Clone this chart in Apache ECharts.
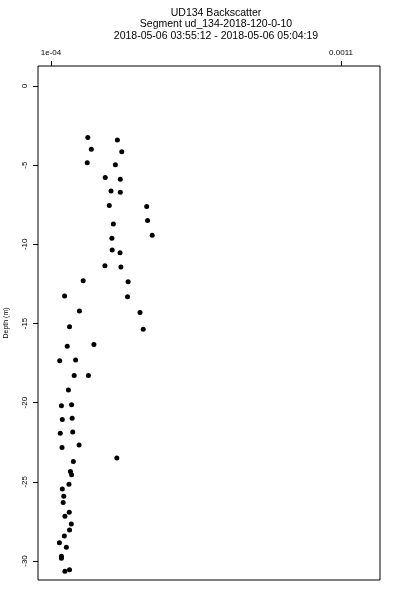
<!DOCTYPE html>
<html>
<head>
<meta charset="utf-8">
<script src="https://cdn.jsdelivr.net/npm/echarts@6/dist/echarts.min.js"></script>
<style>html,body{margin:0;padding:0;background:#fff}#c{width:400px;height:600px}</style>
</head>
<body>
<div id="c"></div>
<script>
var titleLines = ["UD134 Backscatter", "Segment ud_134-2018-120-0-10", "2018-05-06 03:55:12 - 2018-05-06 05:04:19"];
var xTickValues = [0.0001, 0.0011];
var xTickLabels = ["1e-04", "0.0011"];
var yTickValues = [0, -5, -10, -15, -20, -25, -30];
var yTickLabels = ["0", "-5", "-10", "-15", "-20", "-25", "-30"];
var yAxisName = "Depth (m)";

var backscatter = [
  0.000227, 0.000329, 0.000239, 0.000344, 0.000225, 0.000322, 0.000287, 0.000339,
  0.000307, 0.000339, 0.000301, 0.000430, 0.000315, 0.000433, 0.000449, 0.000310,
  0.000311, 0.000338, 0.000286, 0.000341, 0.000211, 0.000366, 0.000147, 0.000364,
  0.000198, 0.000407, 0.000164, 0.000418, 0.000156, 0.000248, 0.000130, 0.000185,
  0.000180, 0.000229, 0.000160, 0.000136, 0.000171, 0.000139, 0.000173, 0.000132,
  0.000175, 0.000138, 0.000197, 0.000327, 0.000177, 0.000167, 0.000171, 0.000162,
  0.000139, 0.000144, 0.000142, 0.000163, 0.000148, 0.000170, 0.000164, 0.000146,
  0.000129, 0.000153, 0.000136, 0.000136, 0.000148, 0.000164
];
var depth = [
  -3.25, -3.42, -3.99, -4.16, -4.85, -4.98, -5.78, -5.89,
  -6.63, -6.71, -7.55, -7.61, -8.72, -8.50, -9.43, -9.62,
  -10.36, -10.53, -11.35, -11.44, -12.30, -12.36, -13.27, -13.31,
  -14.22, -14.30, -15.21, -15.36, -16.44, -16.33, -17.36, -17.30,
  -18.29, -18.29, -19.20, -20.19, -20.13, -21.06, -20.99, -21.94,
  -21.85, -22.83, -22.68, -23.50, -23.72, -24.35, -24.56, -25.15,
  -25.46, -25.91, -26.31, -26.92, -27.17, -27.66, -28.04, -28.42,
  -28.84, -29.13, -29.70, -29.83, -30.65, -30.55
];

var points = backscatter.map(function (v, i) { return [v, depth[i]]; });
var fontFam = '"Liberation Sans", Arial, Helvetica, sans-serif';

function pick(values, labels) {
  return function (v) {
    for (var i = 0; i < values.length; i++) { if (Math.abs(v - values[i]) < 1e-9) return labels[i]; }
    return '';
  };
}

var chart = echarts.init(document.getElementById('c'), null, {renderer: 'canvas'});
chart.setOption({
  animation: false,
  backgroundColor: '#ffffff',
  title: {
    text: titleLines.join('\n'),
    left: 211,
    top: 2,
    textAlign: 'center',
    textStyle: {fontFamily: fontFam, fontSize: 10.5, fontWeight: 'normal', color: '#000', lineHeight: 11.5}
  },
  grid: {left: 38, right: 20, top: 66, bottom: 20, show: true, borderColor: '#000', borderWidth: 1,
         backgroundColor: 'transparent', containLabel: false, outerBoundsMode: 'none'},
  xAxis: {
    type: 'value',
    position: 'top',
    min: 0.0000552,
    max: 0.0012345,
    splitLine: {show: false},
    axisLine: {show: false, onZero: false},
    axisTick: {show: true, inside: false, length: 5, customValues: xTickValues, lineStyle: {color: '#000', width: 1}},
    axisLabel: {
      show: true, margin: 9, customValues: xTickValues,
      fontFamily: fontFam, fontSize: 8, color: '#000',
      formatter: pick(xTickValues, xTickLabels)
    }
  },
  yAxis: {
    type: 'value',
    min: -31.2,
    max: 1.26,
    name: yAxisName,
    nameLocation: 'middle',
    nameRotate: 90,
    nameGap: 28,
    nameTextStyle: {fontFamily: fontFam, fontSize: 7, color: '#000'},
    splitLine: {show: false},
    axisLine: {show: false, onZero: false},
    axisTick: {show: true, inside: false, length: 5, customValues: yTickValues, lineStyle: {color: '#000', width: 1}},
    axisLabel: {
      show: true, margin: 9, rotate: 90, customValues: yTickValues,
      fontFamily: fontFam, fontSize: 8, color: '#000',
      formatter: pick(yTickValues, yTickLabels)
    }
  },
  series: [{
    type: 'scatter',
    data: points,
    symbol: 'circle',
    symbolSize: 5,
    itemStyle: {color: '#000', opacity: 1},
    silent: true
  }]
});
</script>
</body>
</html>
